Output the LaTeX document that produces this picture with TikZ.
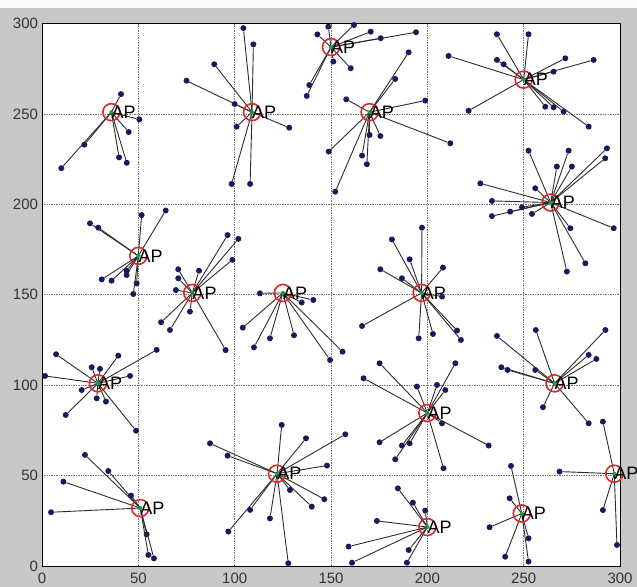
\documentclass[tikz,border=0pt]{standalone}
\usepackage{fontspec}
\setmainfont{Liberation Sans}
\usepackage{tikz}
\usetikzlibrary{positioning,calc}
\usepackage{xcolor}
\definecolor{figgray}{RGB}{200,200,200}
\definecolor{uedot}{RGB}{25,25,95}
\definecolor{apred}{RGB}{220,40,40}
\definecolor{apgreen}{RGB}{40,150,60}
\definecolor{gridgray}{RGB}{120,120,120}
\definecolor{linkgray}{RGB}{45,45,45}
\tikzset{
    ap/.style={circle, draw=apred, line width=1.6pt, minimum size=17pt, inner sep=0pt,
        path picture={\fill[apgreen] (path picture bounding box.center) circle (2pt);}},
    aplabel/.style={anchor=west, inner sep=0pt, font=\fontsize{18}{18}\selectfont},
    ue/.style={circle, fill=uedot, minimum size=6pt, inner sep=0pt},
    link/.style={linkgray, line width=0.9pt},
    gridline/.style={gridgray, densely dotted, line width=0.7pt},
    ticklabel/.style={inner sep=0pt, text=black!80, font=\fontsize{15}{15}\selectfont},
}

\begin{document}
\begin{tikzpicture}[x=1.927pt, y=1.808pt]
    \useasboundingbox (-21.8,-11.6) rectangle (308.8,313.05);
    \fill[figgray] (-21.8,-11.6) rectangle (308.8,313.05);
    \fill[white!95!figgray] (-21.8,308.6) rectangle (308.8,313.05);
    \fill[white] (0,0) rectangle (300,300);

    % grid and tick labels
    \foreach \v in {50,100,...,250} {
        \draw[gridline] (\v,0) -- (\v,300);
        \draw[gridline] (0,\v) -- (300,\v);
    }
    \foreach \v in {0,50,...,300} {
        \node[ticklabel] (xt\v) at (\v,-6.6) {\v};
        \node[ticklabel, anchor=east] (yt\v) at (-2,\v) {\v};
    }
    \draw[black, line width=0.8pt] (0,0) rectangle (300,300);

    % AP 1
    \coordinate (ap1) at (36,251);
    \foreach \ux/\uy [count=\k] in {41/261, 50.5/247, 45/240, 40/226, 44/223, 22/233, 10/220} {
        \node[ue] (ap1u\k) at (\ux,\uy) {};
        \draw[link] (ap1) -- (ap1u\k);
    }
    \node[ap] (ap1c) at (ap1) {};
    \node[aplabel] (ap1t) at (ap1) {AP};

    % AP 2
    \coordinate (ap2) at (109,251);
    \foreach \ux/\uy [count=\k] in {104.5/297.5, 109.7/288.5, 89.4/277.5, 75/268.4, 100/255.5, 101/243, 128.3/242.4, 98.4/211.3, 108/211.3} {
        \node[ue] (ap2u\k) at (\ux,\uy) {};
        \draw[link] (ap2) -- (ap2u\k);
    }
    \node[ap] (ap2c) at (ap2) {};
    \node[aplabel] (ap2t) at (ap2) {AP};

    % AP 3
    \coordinate (ap3) at (150,287);
    \foreach \ux/\uy [count=\k] in {148.6/298.3, 161.9/299.2, 142.9/294, 170.6/295.5, 175.8/291.9, 194.1/295.2, 151.2/279, 160.2/275.3, 138.7/266, 137.4/260} {
        \node[ue] (ap3u\k) at (\ux,\uy) {};
        \draw[link] (ap3) -- (ap3u\k);
    }
    \node[ap] (ap3c) at (ap3) {};
    \node[aplabel] (ap3t) at (ap3) {AP};

    % AP 4
    \coordinate (ap4) at (170,251);
    \foreach \ux/\uy [count=\k] in {190.3/284.1, 183.3/269.4, 157.9/258.1, 198.9/257.4, 211.9/233.8, 148.8/229.2, 170/238.4, 175.6/237.8, 166.1/227, 168.6/222.2, 152.2/207} {
        \node[ue] (ap4u\k) at (\ux,\uy) {};
        \draw[link] (ap4) -- (ap4u\k);
    }
    \node[ap] (ap4c) at (ap4) {};
    \node[aplabel] (ap4t) at (ap4) {AP};

    % AP 5
    \coordinate (ap5) at (250,269);
    \foreach \ux/\uy [count=\k] in {236.1/294.1, 252.5/294.1, 211/282.1, 236.1/279.9, 239.6/277.5, 271.6/280.8, 286.3/279.9, 265.5/273.4, 221.4/251.8, 261.2/254, 265.5/253.7, 270.7/251.3, 283.7/243} {
        \node[ue] (ap5u\k) at (\ux,\uy) {};
        \draw[link] (ap5) -- (ap5u\k);
    }
    \node[ap] (ap5c) at (ap5) {};
    \node[aplabel] (ap5t) at (ap5) {AP};

    % AP 6
    \coordinate (ap6) at (264,201);
    \foreach \ux/\uy [count=\k] in {252.5/229.7, 273.3/229.7, 267.2/220.9, 275/220.9, 293.2/231, 292.3/225.5, 227.5/211.6, 233.5/201.9, 233.5/193.5, 243/196, 249.1/198.4, 254.3/194.7, 256/208.9, 296.7/186.8, 274.2/186.8, 282/167.4, 272.4/162.8} {
        \node[ue] (ap6u\k) at (\ux,\uy) {};
        \draw[link] (ap6) -- (ap6u\k);
    }
    \node[ap] (ap6c) at (ap6) {};
    \node[aplabel] (ap6t) at (ap6) {AP};

    % AP 7
    \coordinate (ap7) at (50,171.5);
    \foreach \ux/\uy [count=\k] in {24.9/189.5, 29.2/187.1, 51.7/194.1, 64.2/196.6, 31/158.5, 36.1/157.8, 43.9/160.9, 43.9/163.3, 49.1/156.3, 47.4/150.4} {
        \node[ue] (ap7u\k) at (\ux,\uy) {};
        \draw[link] (ap7) -- (ap7u\k);
    }
    \node[ap] (ap7c) at (ap7) {};
    \node[aplabel] (ap7t) at (ap7) {AP};

    % AP 8
    \coordinate (ap8) at (78,151);
    \foreach \ux/\uy [count=\k] in {96.3/183, 101.9/180.9, 98.8/169.3, 70.7/164.1, 70.7/159.1, 81.5/163.3, 69.5/152.6, 61.8/134.8, 66.4/130.5, 76.8/140.7, 95.3/119.4} {
        \node[ue] (ap8u\k) at (\ux,\uy) {};
        \draw[link] (ap8) -- (ap8u\k);
    }
    \node[ap] (ap8c) at (ap8) {};
    \node[aplabel] (ap8t) at (ap8) {AP};

    % AP 9
    \coordinate (ap9) at (125,151);
    \foreach \ux/\uy [count=\k] in {113.1/150.8, 134.8/145.7, 140.8/147.1, 104.2/131.8, 118.3/125.9, 110/120.9, 130.8/127.6, 156/118.5, 149.5/113.9} {
        \node[ue] (ap9u\k) at (\ux,\uy) {};
        \draw[link] (ap9) -- (ap9u\k);
    }
    \node[ap] (ap9c) at (ap9) {};
    \node[aplabel] (ap9t) at (ap9) {AP};

    % AP 10
    \coordinate (ap10) at (197,151);
    \foreach \ux/\uy [count=\k] in {197.2/187.1, 181.6/180.6, 190.8/169.6, 175.6/164.1, 186.8/159.1, 208.1/165, 166.1/132.7, 195.5/125.9, 202.9/128.3, 215.4/130.2, 217.4/125, 207.6/149} {
        \node[ue] (ap10u\k) at (\ux,\uy) {};
        \draw[link] (ap10) -- (ap10u\k);
    }
    \node[ap] (ap10c) at (ap10) {};
    \node[aplabel] (ap10t) at (ap10) {AP};

    % AP 11
    \coordinate (ap11) at (29,101);
    \foreach \ux/\uy [count=\k] in {7.3/117.1, 39.6/116.3, 59.5/119.5, 25.8/109.9, 30.1/109, 1.6/105.1, 45.7/105.1, 20.6/97.3, 28.4/92.7, 33.2/90.9, 12.3/83.5, 48.8/74.8} {
        \node[ue] (ap11u\k) at (\ux,\uy) {};
        \draw[link] (ap11) -- (ap11u\k);
    }
    \node[ap] (ap11c) at (ap11) {};
    \node[aplabel] (ap11t) at (ap11) {AP};

    % AP 12
    \coordinate (ap12) at (266,101);
    \foreach \ux/\uy [count=\k] in {236.1/127.2, 256.3/130.5, 292.4/130.5, 283.7/116.7, 287.7/114.5, 238.4/109.9, 241.6/108.4, 256/108.4, 260/87.8, 283.7/78.9} {
        \node[ue] (ap12u\k) at (\ux,\uy) {};
        \draw[link] (ap12) -- (ap12u\k);
    }
    \node[ap] (ap12c) at (ap12) {};
    \node[aplabel] (ap12t) at (ap12) {AP};

    % AP 13
    \coordinate (ap13) at (200,84.6);
    \foreach \ux/\uy [count=\k] in {175.2/112.1, 166.9/103.8, 214.5/112.1, 194.6/99.2, 205/100.1, 209.3/97.3, 207.6/78.9, 231.8/66.6, 175.2/68.4, 186.8/66.6, 190.8/67.8, 183.3/59, 208.4/54} {
        \node[ue] (ap13u\k) at (\ux,\uy) {};
        \draw[link] (ap13) -- (ap13u\k);
    }
    \node[ap] (ap13c) at (ap13) {};
    \node[aplabel] (ap13t) at (ap13) {AP};

    % AP 14
    \coordinate (ap14) at (122,51);
    \foreach \ux/\uy [count=\k] in {87.2/67.8, 96.3/61, 124.4/78, 137/70.6, 157.4/72.8, 147.9/55.5, 146.5/36.9, 128.7/42, 140/32.8, 108/31, 118.3/26.3, 96.7/19, 127.8/1.5} {
        \node[ue] (ap14u\k) at (\ux,\uy) {};
        \draw[link] (ap14) -- (ap14u\k);
    }
    \node[ap] (ap14c) at (ap14) {};
    \node[aplabel] (ap14t) at (ap14) {AP};

    % AP 15
    \coordinate (ap15) at (51,32);
    \foreach \ux/\uy [count=\k] in {22.3/61.4, 34.4/52.5, 11.1/46.6, 46.2/38.9, 4.7/29.7, 54.3/17.5, 55.2/6.1, 58.1/4.2} {
        \node[ue] (ap15u\k) at (\ux,\uy) {};
        \draw[link] (ap15) -- (ap15u\k);
    }
    \node[ap] (ap15c) at (ap15) {};
    \node[aplabel] (ap15t) at (ap15) {AP};

    % AP 16
    \coordinate (ap16) at (297,51);
    \foreach \ux/\uy [count=\k] in {291.1/79.8, 268.6/52.2, 291.1/30.9, 298.4/11.6} {
        \node[ue] (ap16u\k) at (\ux,\uy) {};
        \draw[link] (ap16) -- (ap16u\k);
    }
    \node[ap] (ap16c) at (ap16) {};
    \node[aplabel] (ap16t) at (ap16) {AP};

    % AP 17
    \coordinate (ap17) at (249,29);
    \foreach \ux/\uy [count=\k] in {243.4/55.3, 242.7/37.4, 232.3/21.4, 240.4/5.1, 252.5/15.3, 252.5/2.4} {
        \node[ue] (ap17u\k) at (\ux,\uy) {};
        \draw[link] (ap17) -- (ap17u\k);
    }
    \node[ap] (ap17c) at (ap17) {};
    \node[aplabel] (ap17t) at (ap17) {AP};

    % AP 18
    \coordinate (ap18) at (200,21.5);
    \foreach \ux/\uy [count=\k] in {184.7/42.9, 192.5/35, 198.9/30.6, 173.8/24.9, 159.1/10.7, 160.9/1.8, 190.3/8.8, 189.4/1.8} {
        \node[ue] (ap18u\k) at (\ux,\uy) {};
        \draw[link] (ap18) -- (ap18u\k);
    }
    \node[ap] (ap18c) at (ap18) {};
    \node[aplabel] (ap18t) at (ap18) {AP};
\end{tikzpicture}
\end{document}
